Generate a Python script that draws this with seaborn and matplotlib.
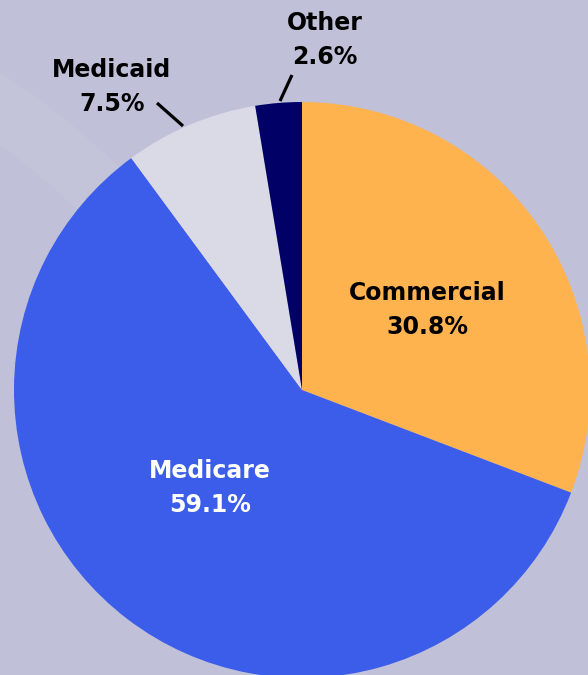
import matplotlib
matplotlib.use("Agg")
import matplotlib.pyplot as plt
from matplotlib.patches import Wedge
import seaborn as sns

# payer mix
payers = ["Commercial", "Medicare", "Medicaid", "Other"]
shares = [30.8, 59.1, 7.5, 2.6]
colors = ["#ffb34f", "#3b5de9", "#dadae6", "#000066"]
label_colors = ["black", "white", "black", "black"]

sns.set_theme(style="white")
plt.rcParams["font.family"] = ["DejaVu Sans"]

bg = "#c0c0d9"
fig = plt.figure(figsize=(5.88, 6.75), dpi=100, facecolor=bg)
ax = fig.add_axes([0, 0, 1, 1])
ax.set_facecolor(bg)

# faint decorative band behind the pie
ax.add_patch(Wedge((-450, -85), 822, 0, 90, width=60, color="white", alpha=0.05, lw=0, zorder=0))

wedges, _ = ax.pie(shares, colors=sns.color_palette(colors), startangle=90,
                   counterclock=False, center=(302, 285), radius=288,
                   wedgeprops=dict(linewidth=0))
for w in wedges:
    w.set_zorder(2)

txt = dict(ha="center", va="center", fontsize=17, fontweight="bold",
           linespacing=1.5, zorder=3)

# labels inside the big slices
ax.text(427, 365, f"{payers[0]}\n{shares[0]}%", color=label_colors[0], **txt)
ax.text(210, 187, f"{payers[1]}\n{shares[1]}%", color=label_colors[1], **txt)

# outside labels with leader lines
ax.text(112, 588, f"{payers[2]}\n{shares[2]}%", color=label_colors[2], **txt)
ax.plot([157, 183], [572, 549], color="black", lw=2.3, solid_capstyle="butt", zorder=3)

ax.text(325, 635, f"{payers[3]}\n{shares[3]}%", color=label_colors[3], **txt)
ax.plot([292, 280], [600, 574], color="black", lw=2.3, solid_capstyle="butt", zorder=3)

ax.set_xlim(0, 588)
ax.set_ylim(0, 675)
ax.set_aspect("auto")
ax.axis("off")

fig.savefig("out.png", dpi=100, facecolor=bg)
